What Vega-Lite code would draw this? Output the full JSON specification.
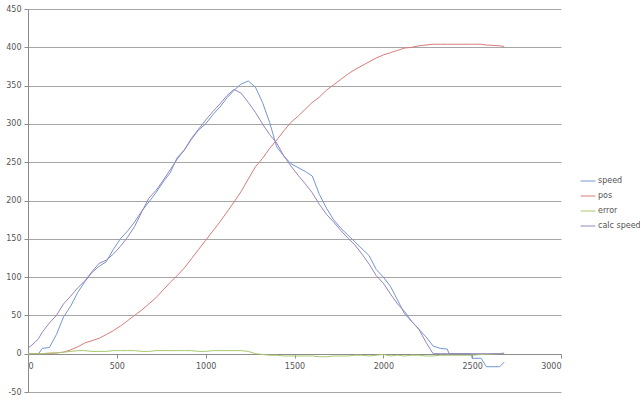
{
  "$schema": "https://vega.github.io/schema/vega-lite/v6.json",
  "width": 533,
  "height": 383,
  "autosize": "none",
  "padding": {"left": 28, "top": 9, "right": 79, "bottom": 10},
  "background": "white",
  "config": {"view": {"stroke": null}, "font": "DejaVu Sans"},
  "data": {"values": [
    {"t":0,"speed":0,"pos":0,"error":0,"calc speed":7},
    {"t":40,"speed":0,"pos":0,"error":0,"calc speed":15},
    {"t":60,"speed":0,"pos":0,"error":0,"calc speed":20},
    {"t":80,"speed":7,"pos":0,"error":0,"calc speed":28},
    {"t":120,"speed":8,"pos":0,"error":1,"calc speed":40},
    {"t":160,"speed":25,"pos":1,"error":1,"calc speed":50},
    {"t":200,"speed":48,"pos":2,"error":2,"calc speed":65},
    {"t":240,"speed":62,"pos":5,"error":3,"calc speed":75},
    {"t":280,"speed":80,"pos":9,"error":4,"calc speed":86},
    {"t":320,"speed":94,"pos":14,"error":4,"calc speed":95},
    {"t":360,"speed":106,"pos":17,"error":3,"calc speed":107},
    {"t":400,"speed":114,"pos":20,"error":3,"calc speed":118},
    {"t":440,"speed":120,"pos":25,"error":3,"calc speed":122},
    {"t":480,"speed":136,"pos":30,"error":4,"calc speed":130},
    {"t":520,"speed":150,"pos":36,"error":4,"calc speed":140},
    {"t":560,"speed":160,"pos":43,"error":4,"calc speed":152},
    {"t":600,"speed":172,"pos":50,"error":4,"calc speed":166},
    {"t":640,"speed":186,"pos":57,"error":3,"calc speed":185},
    {"t":680,"speed":198,"pos":65,"error":3,"calc speed":203},
    {"t":720,"speed":210,"pos":73,"error":4,"calc speed":213},
    {"t":760,"speed":224,"pos":83,"error":4,"calc speed":226},
    {"t":800,"speed":236,"pos":93,"error":4,"calc speed":240},
    {"t":840,"speed":256,"pos":102,"error":4,"calc speed":254},
    {"t":880,"speed":266,"pos":112,"error":4,"calc speed":266},
    {"t":920,"speed":280,"pos":124,"error":4,"calc speed":281},
    {"t":960,"speed":292,"pos":136,"error":3,"calc speed":293},
    {"t":1000,"speed":300,"pos":148,"error":3,"calc speed":305},
    {"t":1040,"speed":312,"pos":160,"error":4,"calc speed":316},
    {"t":1080,"speed":322,"pos":172,"error":4,"calc speed":326},
    {"t":1120,"speed":334,"pos":185,"error":4,"calc speed":337},
    {"t":1160,"speed":344,"pos":198,"error":4,"calc speed":345},
    {"t":1200,"speed":352,"pos":212,"error":4,"calc speed":340},
    {"t":1240,"speed":356,"pos":228,"error":3,"calc speed":328},
    {"t":1280,"speed":348,"pos":244,"error":0,"calc speed":315},
    {"t":1320,"speed":328,"pos":255,"error":-1,"calc speed":300},
    {"t":1360,"speed":302,"pos":268,"error":-2,"calc speed":286},
    {"t":1400,"speed":270,"pos":279,"error":-2,"calc speed":275},
    {"t":1440,"speed":258,"pos":291,"error":-3,"calc speed":258},
    {"t":1480,"speed":248,"pos":302,"error":-3,"calc speed":245},
    {"t":1520,"speed":243,"pos":310,"error":-3,"calc speed":233},
    {"t":1560,"speed":238,"pos":319,"error":-3,"calc speed":222},
    {"t":1600,"speed":232,"pos":328,"error":-3,"calc speed":210},
    {"t":1640,"speed":208,"pos":335,"error":-4,"calc speed":195},
    {"t":1680,"speed":190,"pos":344,"error":-4,"calc speed":182},
    {"t":1720,"speed":175,"pos":351,"error":-3,"calc speed":172},
    {"t":1760,"speed":164,"pos":358,"error":-3,"calc speed":161},
    {"t":1800,"speed":155,"pos":365,"error":-3,"calc speed":151},
    {"t":1840,"speed":146,"pos":371,"error":-2,"calc speed":142},
    {"t":1880,"speed":137,"pos":376,"error":-2,"calc speed":130},
    {"t":1920,"speed":128,"pos":381,"error":-3,"calc speed":117},
    {"t":1960,"speed":110,"pos":386,"error":-2,"calc speed":102},
    {"t":2000,"speed":100,"pos":390,"error":-1,"calc speed":92},
    {"t":2040,"speed":88,"pos":393,"error":-3,"calc speed":78},
    {"t":2080,"speed":70,"pos":396,"error":-2,"calc speed":65},
    {"t":2120,"speed":52,"pos":399,"error":-3,"calc speed":55},
    {"t":2160,"speed":42,"pos":400,"error":-2,"calc speed":42},
    {"t":2200,"speed":32,"pos":402,"error":-2,"calc speed":32},
    {"t":2240,"speed":22,"pos":403,"error":-3,"calc speed":15},
    {"t":2280,"speed":10,"pos":404,"error":-3,"calc speed":0},
    {"t":2320,"speed":7,"pos":404,"error":-2,"calc speed":0},
    {"t":2360,"speed":6,"pos":404,"error":-2,"calc speed":0},
    {"t":2370,"speed":0,"pos":404,"error":-2,"calc speed":0},
    {"t":2440,"speed":0,"pos":404,"error":-2,"calc speed":0},
    {"t":2495,"speed":0,"pos":404,"error":-2,"calc speed":0},
    {"t":2500,"speed":-6,"pos":404,"error":-2,"calc speed":0},
    {"t":2550,"speed":-6,"pos":404,"error":-1,"calc speed":0},
    {"t":2580,"speed":-17,"pos":403,"error":-1,"calc speed":0},
    {"t":2655,"speed":-17,"pos":402,"error":0,"calc speed":0},
    {"t":2680,"speed":-11,"pos":401,"error":1,"calc speed":0}
  ]},
  "transform": [{"fold": ["speed", "pos", "error", "calc speed"], "as": ["series", "value"]}],
  "mark": {"type": "line", "strokeWidth": 1},
  "encoding": {
    "x": {
      "field": "t", "type": "quantitative",
      "scale": {"domain": [0, 3000], "nice": false, "zero": false},
      "axis": {
        "title": null, "values": [0, 500, 1000, 1500, 2000, 2500, 3000], "labelExpr": "'' + datum.value",
        "grid": false, "offset": -38, "domainColor": "#8c8c8c", "tickColor": "#8c8c8c",
        "tickSize": 4, "labelFontSize": 8, "labelColor": "#555555", "labelPadding": 4
      }
    },
    "y": {
      "field": "value", "type": "quantitative",
      "scale": {"domain": [-50, 450], "nice": false, "zero": false},
      "axis": {
        "title": null, "values": [-50, 0, 50, 100, 150, 200, 250, 300, 350, 400, 450], "labelExpr": "'' + datum.value",
        "grid": true, "gridColor": "#a6a6a6", "gridWidth": 1,
        "domainColor": "#8c8c8c", "tickColor": "#8c8c8c", "tickSize": 4,
        "labelFontSize": 8, "labelColor": "#555555", "labelPadding": 3
      }
    },
    "color": {
      "field": "series", "type": "nominal",
      "scale": {"domain": ["speed", "pos", "error", "calc speed"], "range": ["#7396d2", "#d97b7a", "#a7c86e", "#9683c0"]},
      "legend": {
        "title": null, "orient": "none", "legendX": 552, "legendY": 164,
        "symbolType": "stroke", "symbolSize": 220, "symbolStrokeWidth": 1,
        "labelFontSize": 8, "labelColor": "#555555", "rowPadding": 3, "labelOffset": 2
      }
    },
    "order": {"field": "t"}
  }
}
